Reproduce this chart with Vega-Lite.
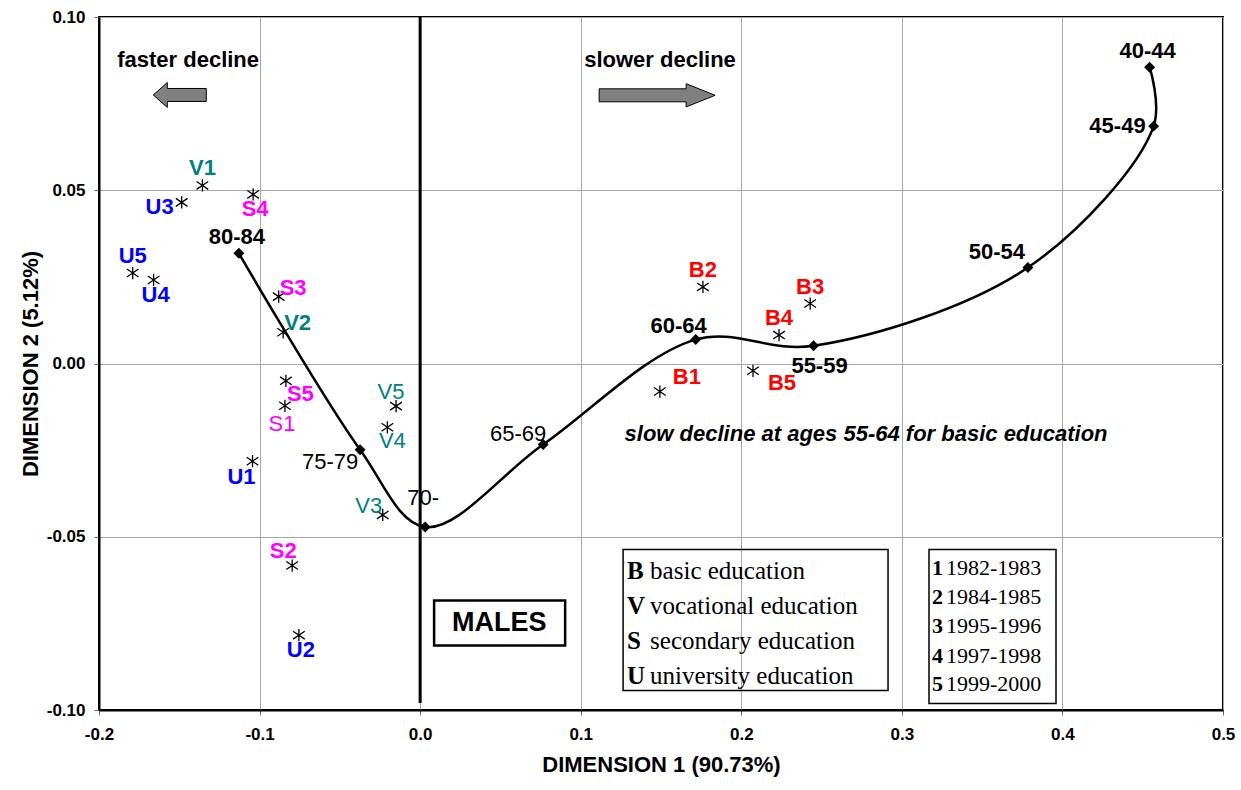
{
  "$schema": "https://vega.github.io/schema/vega-lite/v6.json",
  "width": 1124,
  "height": 693,
  "autosize": "none",
  "padding": {"left": 99, "top": 17, "right": 18, "bottom": 80},
  "background": "white",
  "config": {
    "locale": {"number": {"decimal": ".", "thousands": ",", "grouping": [3], "currency": ["$", ""], "minus": "-"}},
    "view": {"stroke": "black", "strokeWidth": 2},
    "font": "Liberation Sans",
    "text": {"font": "Liberation Sans", "fontSize": 22, "fontWeight": "bold", "baseline": "middle"}
  },
  "datasets": {
    "curve": [
      {"seq": 1, "age": "40-44", "x": 0.4543, "y": 0.0855},
      {"seq": 2, "age": "45-49", "x": 0.4568, "y": 0.0685},
      {"seq": 3, "age": "50-54", "x": 0.3785, "y": 0.0277},
      {"seq": 4, "age": "55-59", "x": 0.2450, "y": 0.0051},
      {"seq": 5, "age": "60-64", "x": 0.1716, "y": 0.0069},
      {"seq": 6, "age": "65-69", "x": 0.0766, "y": -0.0234},
      {"seq": 7, "age": "70-", "x": 0.0031, "y": -0.0472},
      {"seq": 8, "age": "75-79", "x": -0.0374, "y": -0.0249},
      {"seq": 9, "age": "80-84", "x": -0.1129, "y": 0.0318}
    ],
    "pts": [
      {"code": "B1", "edu": "B", "x": 0.1493, "y": -0.0081},
      {"code": "B2", "edu": "B", "x": 0.1761, "y": 0.0221},
      {"code": "B3", "edu": "B", "x": 0.2429, "y": 0.0173},
      {"code": "B4", "edu": "B", "x": 0.2235, "y": 0.0082},
      {"code": "B5", "edu": "B", "x": 0.2073, "y": -0.0021},
      {"code": "V1", "edu": "V", "x": -0.1356, "y": 0.0514},
      {"code": "V2", "edu": "V", "x": -0.0853, "y": 0.0090},
      {"code": "V3", "edu": "V", "x": -0.0233, "y": -0.0437},
      {"code": "V4", "edu": "V", "x": -0.0204, "y": -0.0184},
      {"code": "V5", "edu": "V", "x": -0.0150, "y": -0.0123},
      {"code": "S1", "edu": "S", "x": -0.0842, "y": -0.0122},
      {"code": "S2", "edu": "S", "x": -0.0797, "y": -0.0583},
      {"code": "S3", "edu": "S", "x": -0.0881, "y": 0.0193},
      {"code": "S4", "edu": "S", "x": -0.1040, "y": 0.0488},
      {"code": "S5", "edu": "S", "x": -0.0836, "y": -0.0050},
      {"code": "U1", "edu": "U", "x": -0.1044, "y": -0.0282},
      {"code": "U2", "edu": "U", "x": -0.0755, "y": -0.0784},
      {"code": "U3", "edu": "U", "x": -0.1485, "y": 0.0465},
      {"code": "U4", "edu": "U", "x": -0.1660, "y": 0.0241},
      {"code": "U5", "edu": "U", "x": -0.1790, "y": 0.0261}
    ]
  },
  "encoding": {
    "x": {
      "field": "x", "type": "quantitative",
      "scale": {"domain": [-0.2, 0.5], "nice": false, "zero": false},
      "axis": {
        "title": "DIMENSION 1 (90.73%)", "values": [-0.2, -0.1, 0, 0.1, 0.2, 0.3, 0.4, 0.5], "format": ".1f",
        "labelFont": "Liberation Sans", "labelFontSize": 17, "labelFontWeight": "bold", "labelColor": "black",
        "labelPadding": 11, "labelFlush": false,
        "titleFont": "Liberation Sans", "titleFontSize": 22, "titleFontWeight": "bold", "titleColor": "black", "titlePadding": 12,
        "grid": true, "gridColor": "#a6a6a6", "gridWidth": 1,
        "domainColor": "black", "domainWidth": 2, "tickColor": "#666666", "tickSize": 5, "tickWidth": 1
      }
    },
    "y": {
      "field": "y", "type": "quantitative",
      "scale": {"domain": [-0.1, 0.1], "nice": false, "zero": false},
      "axis": {
        "title": "DIMENSION 2 (5.12%)", "values": [-0.1, -0.05, 0, 0.05, 0.1], "format": ".2f",
        "labelFont": "Liberation Sans", "labelFontSize": 17, "labelFontWeight": "bold", "labelColor": "black",
        "labelPadding": 9, "labelFlush": false,
        "titleFont": "Liberation Sans", "titleFontSize": 22, "titleFontWeight": "bold", "titleColor": "black", "titlePadding": 4,
        "grid": true, "gridColor": "#a6a6a6", "gridWidth": 1,
        "domainColor": "black", "domainWidth": 2, "tickColor": "#666666", "tickSize": 5, "tickWidth": 1
      }
    }
  },
  "layer": [
    {
      "data": {"values": [{"x": 0, "y": 0.1, "y2": -0.098}]},
      "mark": {"type": "rule", "color": "black", "strokeWidth": 3},
      "encoding": {"y2": {"field": "y2"}}
    },
    {
      "data": {"values": [
        {"x": 0.1264, "x2": 0.2914, "y": -0.0537, "y2": -0.0944, "b": "edu"},
        {"x": 0.3169, "x2": 0.3960, "y": -0.0537, "y2": -0.0981, "b": "period"}
      ]},
      "mark": {"type": "rect", "fill": "white", "fillOpacity": 0, "stroke": "black", "strokeWidth": 1.5},
      "encoding": {"x2": {"field": "x2"}, "y2": {"field": "y2"}}
    },
    {
      "data": {"values": [{"x": 0.0087, "x2": 0.0903, "y": -0.0684, "y2": -0.0814}]},
      "mark": {"type": "rect", "fill": "white", "stroke": "black", "strokeWidth": 2.5},
      "encoding": {"x2": {"field": "x2"}, "y2": {"field": "y2"}}
    },
    {
      "data": {"values": [{"x": 0.0492, "y": -0.0748, "t": "MALES"}]},
      "mark": {"type": "text", "fontSize": 27, "color": "black"},
      "encoding": {"text": {"field": "t"}}
    },
    {
      "data": {"name": "curve"},
      "mark": {"type": "line", "interpolate": "catmull-rom", "color": "black", "strokeWidth": 2.5},
      "encoding": {"order": {"field": "seq", "type": "quantitative"}}
    },
    {
      "data": {"name": "curve"},
      "mark": {"type": "point", "shape": "diamond", "filled": true, "color": "black", "size": 120, "opacity": 1}
    },
    {
      "data": {"name": "pts"},
      "mark": {"type": "point", "shape": "M0,-1L0,1M-0.95,-0.65L0.95,0.65M-0.95,0.65L0.95,-0.65", "filled": false, "stroke": "black", "strokeWidth": 1.3, "size": 150, "opacity": 1}
    },
    {
      "data": {"name": "pts"},
      "transform": [{"filter": {"field": "code", "oneOf": ["V1", "U5", "B2", "B3", "B4"]}}],
      "mark": {"type": "text", "dy": -17},
      "encoding": {"text": {"field": "code"}, "color": {"field": "edu", "type": "nominal", "scale": {"domain": ["B", "V", "S", "U"], "range": ["#FF0000", "#008080", "#FF00FF", "#0000FF"]}, "legend": null}}
    },
    {
      "data": {"name": "pts"},
      "transform": [{"filter": {"field": "code", "oneOf": ["S4", "U2", "U4"]}}],
      "mark": {"type": "text", "dy": 15, "dx": 2},
      "encoding": {"text": {"field": "code"}, "color": {"field": "edu", "type": "nominal", "legend": null}}
    },
    {
      "data": {"name": "pts"},
      "transform": [{"filter": {"field": "code", "oneOf": ["U3"]}}],
      "mark": {"type": "text", "align": "right", "dx": -8, "dy": 5},
      "encoding": {"text": {"field": "code"}, "color": {"field": "edu", "type": "nominal", "legend": null}}
    },
    {
      "data": {"name": "pts"},
      "transform": [{"filter": {"field": "code", "oneOf": ["V2", "S3"]}}],
      "mark": {"type": "text", "align": "left", "dx": 1, "dy": -9},
      "encoding": {"text": {"field": "code"}, "color": {"field": "edu", "type": "nominal", "legend": null}}
    },
    {
      "data": {"name": "pts"},
      "transform": [{"filter": {"field": "code", "oneOf": ["S5"]}}],
      "mark": {"type": "text", "align": "left", "dx": 1, "dy": 13},
      "encoding": {"text": {"field": "code"}, "color": {"field": "edu", "type": "nominal", "legend": null}}
    },
    {
      "data": {"name": "pts"},
      "transform": [{"filter": {"field": "code", "oneOf": ["U1"]}}],
      "mark": {"type": "text", "dx": -11, "dy": 16},
      "encoding": {"text": {"field": "code"}, "color": {"field": "edu", "type": "nominal", "legend": null}}
    },
    {
      "data": {"name": "pts"},
      "transform": [{"filter": {"field": "code", "oneOf": ["S2"]}}],
      "mark": {"type": "text", "dx": -9, "dy": -15},
      "encoding": {"text": {"field": "code"}, "color": {"field": "edu", "type": "nominal", "legend": null}}
    },
    {
      "data": {"name": "pts"},
      "transform": [{"filter": {"field": "code", "oneOf": ["B1"]}}],
      "mark": {"type": "text", "dx": 27, "dy": -15},
      "encoding": {"text": {"field": "code"}, "color": {"field": "edu", "type": "nominal", "legend": null}}
    },
    {
      "data": {"name": "pts"},
      "transform": [{"filter": {"field": "code", "oneOf": ["B5"]}}],
      "mark": {"type": "text", "dx": 29, "dy": 12},
      "encoding": {"text": {"field": "code"}, "color": {"field": "edu", "type": "nominal", "legend": null}}
    },
    {
      "data": {"name": "pts"},
      "transform": [{"filter": {"field": "code", "oneOf": ["S1"]}}],
      "mark": {"type": "text", "fontWeight": "normal", "dx": -3, "dy": 18},
      "encoding": {"text": {"field": "code"}, "color": {"field": "edu", "type": "nominal", "legend": null}}
    },
    {
      "data": {"name": "pts"},
      "transform": [{"filter": {"field": "code", "oneOf": ["V4"]}}],
      "mark": {"type": "text", "fontWeight": "normal", "dx": 5, "dy": 14},
      "encoding": {"text": {"field": "code"}, "color": {"field": "edu", "type": "nominal", "legend": null}}
    },
    {
      "data": {"name": "pts"},
      "transform": [{"filter": {"field": "code", "oneOf": ["V5"]}}],
      "mark": {"type": "text", "fontWeight": "normal", "dx": -5, "dy": -14},
      "encoding": {"text": {"field": "code"}, "color": {"field": "edu", "type": "nominal", "legend": null}}
    },
    {
      "data": {"name": "pts"},
      "transform": [{"filter": {"field": "code", "oneOf": ["V3"]}}],
      "mark": {"type": "text", "fontWeight": "normal", "dx": -14, "dy": -9},
      "encoding": {"text": {"field": "code"}, "color": {"field": "edu", "type": "nominal", "legend": null}}
    },
    {
      "data": {"name": "curve"},
      "transform": [{"filter": {"field": "age", "oneOf": ["40-44", "80-84"]}}],
      "mark": {"type": "text", "color": "black", "dx": -2, "dy": -16},
      "encoding": {"text": {"field": "age"}}
    },
    {
      "data": {"name": "curve"},
      "transform": [{"filter": {"field": "age", "oneOf": ["45-49"]}}],
      "mark": {"type": "text", "color": "black", "align": "right", "dx": -8, "dy": 0},
      "encoding": {"text": {"field": "age"}}
    },
    {
      "data": {"name": "curve"},
      "transform": [{"filter": {"field": "age", "oneOf": ["50-54"]}}],
      "mark": {"type": "text", "color": "black", "dx": -31, "dy": -16},
      "encoding": {"text": {"field": "age"}}
    },
    {
      "data": {"name": "curve"},
      "transform": [{"filter": {"field": "age", "oneOf": ["55-59"]}}],
      "mark": {"type": "text", "color": "black", "dx": 6, "dy": 20},
      "encoding": {"text": {"field": "age"}}
    },
    {
      "data": {"name": "curve"},
      "transform": [{"filter": {"field": "age", "oneOf": ["60-64"]}}],
      "mark": {"type": "text", "color": "black", "dx": -17, "dy": -14},
      "encoding": {"text": {"field": "age"}}
    },
    {
      "data": {"name": "curve"},
      "transform": [{"filter": {"field": "age", "oneOf": ["65-69"]}}],
      "mark": {"type": "text", "color": "black", "fontWeight": "normal", "dx": -25, "dy": -11},
      "encoding": {"text": {"field": "age"}}
    },
    {
      "data": {"name": "curve"},
      "transform": [{"filter": {"field": "age", "oneOf": ["70-"]}}],
      "mark": {"type": "text", "color": "black", "fontWeight": "normal", "dx": -2, "dy": -29},
      "encoding": {"text": {"field": "age"}}
    },
    {
      "data": {"name": "curve"},
      "transform": [{"filter": {"field": "age", "oneOf": ["75-79"]}}],
      "mark": {"type": "text", "color": "black", "fontWeight": "normal", "dx": -30, "dy": 12},
      "encoding": {"text": {"field": "age"}}
    },
    {
      "data": {"values": [
        {"x": -0.1445, "y": 0.0877, "t": "faster decline"},
        {"x": 0.1494, "y": 0.0877, "t": "slower decline"}
      ]},
      "mark": {"type": "text", "color": "black"},
      "encoding": {"text": {"field": "t"}}
    },
    {
      "data": {"values": [{"x": -0.1497, "y": 0.0775, "dir": "left"}]},
      "mark": {"type": "point", "shape": "M-1,0L-0.47,-0.47L-0.47,-0.245L1,-0.245L1,0.245L-0.47,0.245L-0.47,0.47Z", "filled": true, "fill": "#808080", "stroke": "black", "strokeWidth": 1, "size": 2809, "opacity": 1}
    },
    {
      "data": {"values": [{"x": 0.1476, "y": 0.0774, "dir": "right"}]},
      "mark": {"type": "point", "shape": "M1,0L0.5,-0.2L0.5,-0.112L-1,-0.112L-1,0.112L0.5,0.112L0.5,0.2Z", "filled": true, "fill": "#808080", "stroke": "black", "strokeWidth": 1, "size": 13456, "opacity": 1}
    },
    {
      "data": {"values": [{"x": 0.2777, "y": -0.0203, "t": "slow decline at ages 55-64 for basic education"}]},
      "mark": {"type": "text", "color": "black", "fontStyle": "italic"},
      "encoding": {"text": {"field": "t"}}
    },
    {
      "data": {"values": [
        {"x": 0.1289, "y": -0.0598, "k": "B", "t": "basic education"},
        {"x": 0.1289, "y": -0.0699, "k": "V", "t": "vocational education"},
        {"x": 0.1289, "y": -0.0800, "k": "S", "t": "secondary education"},
        {"x": 0.1289, "y": -0.0901, "k": "U", "t": "university education"}
      ]},
      "mark": {"type": "text", "font": "Liberation Serif", "fontSize": 25, "fontWeight": "normal", "align": "left", "color": "black", "dx": 23},
      "encoding": {"text": {"field": "t"}}
    },
    {
      "data": {"values": [
        {"x": 0.1289, "y": -0.0598, "k": "B"},
        {"x": 0.1289, "y": -0.0699, "k": "V"},
        {"x": 0.1289, "y": -0.0800, "k": "S"},
        {"x": 0.1289, "y": -0.0901, "k": "U"}
      ]},
      "mark": {"type": "text", "font": "Liberation Serif", "fontSize": 25, "fontWeight": "bold", "align": "left", "color": "black"},
      "encoding": {"text": {"field": "k"}}
    },
    {
      "data": {"values": [
        {"x": 0.3188, "y": -0.0589, "k": "1", "t": "1982-1983"},
        {"x": 0.3188, "y": -0.0673, "k": "2", "t": "1984-1985"},
        {"x": 0.3188, "y": -0.0757, "k": "3", "t": "1995-1996"},
        {"x": 0.3188, "y": -0.0843, "k": "4", "t": "1997-1998"},
        {"x": 0.3188, "y": -0.0924, "k": "5", "t": "1999-2000"}
      ]},
      "mark": {"type": "text", "font": "Liberation Serif", "fontSize": 22, "fontWeight": "normal", "align": "left", "color": "black", "dx": 14},
      "encoding": {"text": {"field": "t"}}
    },
    {
      "data": {"values": [
        {"x": 0.3188, "y": -0.0589, "k": "1"},
        {"x": 0.3188, "y": -0.0673, "k": "2"},
        {"x": 0.3188, "y": -0.0757, "k": "3"},
        {"x": 0.3188, "y": -0.0843, "k": "4"},
        {"x": 0.3188, "y": -0.0924, "k": "5"}
      ]},
      "mark": {"type": "text", "font": "Liberation Serif", "fontSize": 22, "fontWeight": "bold", "align": "left", "color": "black"},
      "encoding": {"text": {"field": "k"}}
    }
  ]
}
